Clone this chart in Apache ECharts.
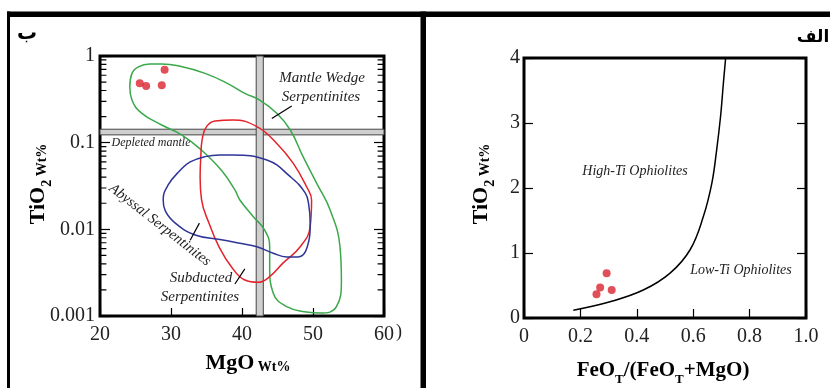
<!DOCTYPE html>
<html><head><meta charset="utf-8">
<script src="https://cdn.jsdelivr.net/npm/echarts@6/dist/echarts.min.js"></script>
<style>html,body{margin:0;padding:0;background:#fff}#c{width:830px;height:388px}</style>
</head><body><div id="c"></div>
<script>
// ---- Left panel (MgO vs TiO2, log) ----
const samplesMgO = [25.6, 26.5, 28.7, 29.1];
const samplesTiO2Left = [0.484, 0.451, 0.459, 0.695];
const mantleWedgeField = [[27.0,0.81],[28.7,0.81],[31.0,0.77],[34.8,0.63],[38.0,0.48],[40.4,0.37],[42.5,0.31],[44.9,0.218],[46.8,0.14],[48.6,0.069],[50.6,0.033],[52.4,0.0168],[53.8,0.0063],[54.0,0.0026],[53.3,0.00128],[51.0,0.00108],[49.1,0.00111],[46.3,0.00128],[44.4,0.00183],[43.9,0.0037],[43.9,0.0063],[43.2,0.0098],[41.6,0.014],[39.7,0.0218],[39.0,0.0285],[37.1,0.048],[34.3,0.082],[31.5,0.123],[28.7,0.16],[25.9,0.218],[24.5,0.31],[24.2,0.44],[24.5,0.63],[25.4,0.75]];
const subductedField = [[36.2,0.178],[38.7,0.183],[42.1,0.153],[44.9,0.098],[47.2,0.058],[49.1,0.031],[49.8,0.0218],[49.6,0.0107],[48.2,0.0063],[45.8,0.0041],[43.9,0.00285],[42.3,0.00245],[40.4,0.0026],[38.5,0.0037],[36.8,0.0062],[35.4,0.0115],[34.3,0.022],[34.1,0.04],[34.2,0.07],[34.4,0.11],[35.0,0.153]];
const abyssalField = [[36.9,0.072],[38.7,0.072],[43.5,0.063],[46.8,0.0405],[48.9,0.0263],[49.4,0.0191],[49.6,0.0118],[49.2,0.0063],[47.9,0.0048],[46.3,0.0048],[44.4,0.0053],[42.1,0.0063],[39.7,0.0069],[37.1,0.0076],[33.4,0.0086],[30.6,0.0118],[29.2,0.0163],[28.9,0.0218],[29.6,0.0325],[31.3,0.048],[32.7,0.06],[34.8,0.069]];
const depletedMantleBand = [0.123, 0.143];
const mgoBand = [42.0, 43.0];
const mantleWedgeLeader = [[44.2,0.19],[47.0,0.265]];
const abyssalLeader = [[32.7,0.0075],[34.0,0.0118]];
const subductedLeader = [[39.0,0.00234],[40.4,0.0035]];
const logMinorTicks = [0.9,0.8,0.7,0.6,0.5,0.4,0.3,0.2,0.09,0.08,0.07,0.06,0.05,0.04,0.03,0.02,0.009,0.008,0.007,0.006,0.005,0.004,0.003,0.002];
// ---- Right panel (FeOT/(FeOT+MgO) vs TiO2) ----
const samplesFeRatio = [0.257, 0.270, 0.293, 0.311];
const samplesTiO2Right = [0.365, 0.47, 0.69, 0.43];
const ophioliteDivide = [[0.175,0.12],[0.305,0.25],[0.423,0.43],[0.518,0.69],[0.589,1.05],[0.636,1.56],[0.666,2.07],[0.683,2.58],[0.697,3.10],[0.707,3.61],[0.715,4.0]];

const closeLoop = a => a.concat([a[0], a[1]]);
const zip = (a,b) => a.map((v,i)=>[v,b[i]]);
const SERIF = '"Liberation Serif","DejaVu Serif",serif';
const tickLbl = {fontFamily:SERIF, fontSize:20, color:'#222'};
const chart = echarts.init(document.getElementById('c'), null, {renderer:'canvas'});
const fieldLine = (data, color) => ({type:'line', xAxisIndex:0, yAxisIndex:0, data:closeLoop(data), smooth:0.45, symbol:'none', lineStyle:{color, width:1.5}, z:3});
const leader = data => ({type:'line', xAxisIndex:0, yAxisIndex:0, data, symbol:'none', lineStyle:{color:'#000', width:1.2}, z:4});
// minor log ticks drawn as short segments at both frame edges
const TL = 0.9;
const minorTickSegs = [];
logMinorTicks.forEach(v => { minorTickSegs.push([20, v], [20 + TL, v], '-', [60 - TL, v], [60, v], '-'); });

chart.setOption({
  animation:false,
  backgroundColor:'#fff',
  grid:[
    {left:100, top:56, width:284, height:260, show:true, borderWidth:3, borderColor:'#000', backgroundColor:'transparent'},
    {left:524, top:58, width:282, height:260, show:true, borderWidth:3, borderColor:'#000', backgroundColor:'transparent'}
  ],
  xAxis:[
    {gridIndex:0, type:'value', min:20, max:60, interval:10, axisLine:{show:false}, splitLine:{show:false},
     axisTick:{show:true, inside:true, length:8, lineStyle:{color:'#000', width:1.2}},
     axisLabel:Object.assign({margin:9}, tickLbl)},
    {gridIndex:1, type:'value', min:0, max:1, interval:0.2, axisLine:{show:false}, splitLine:{show:false},
     axisTick:{show:true, inside:true, length:9, lineStyle:{color:'#000', width:1.2}},
     axisLabel:Object.assign({margin:9, formatter:v => v===0 ? '0' : v.toFixed(1)}, tickLbl)}
  ],
  yAxis:[
    {gridIndex:0, type:'log', logBase:10, min:0.001, max:1, splitNumber:3, axisLine:{show:false}, splitLine:{show:false},
     axisTick:{show:true, inside:true, length:10, lineStyle:{color:'#000', width:1.2}},
     axisLabel:Object.assign({margin:5, formatter:v => String(Number(v.toPrecision(1)))}, tickLbl)},
    {gridIndex:0, type:'log', logBase:10, min:0.001, max:1, splitNumber:3, position:'right', axisLine:{show:false}, splitLine:{show:false},
     axisTick:{show:true, inside:true, length:10, lineStyle:{color:'#000', width:1.2}}, axisLabel:{show:false}},
    {gridIndex:1, type:'value', min:0, max:4, interval:1, axisLine:{show:false}, splitLine:{show:false},
     axisTick:{show:true, inside:true, length:9, lineStyle:{color:'#000', width:1.2}},
     axisLabel:Object.assign({margin:4}, tickLbl)},
    {gridIndex:1, type:'value', min:0, max:4, interval:1, position:'right', axisLine:{show:false}, splitLine:{show:false},
     axisTick:{show:true, inside:true, length:9, lineStyle:{color:'#000', width:1.2}}, axisLabel:{show:false}}
  ],
  series:[
    {type:'line', xAxisIndex:0, yAxisIndex:0, data:[], z:1,
     markArea:{silent:true, itemStyle:{color:'#cfcfcf', borderColor:'#444', borderWidth:1},
       data:[
         [{xAxis:20, yAxis:depletedMantleBand[0]},{xAxis:60, yAxis:depletedMantleBand[1]}],
         [{xAxis:mgoBand[0], yAxis:0.001},{xAxis:mgoBand[1], yAxis:1}]
       ]}},
    {type:'line', xAxisIndex:0, yAxisIndex:0, data:minorTickSegs, symbol:'none', silent:true,
     lineStyle:{color:'#000', width:1.2}, z:8},
    fieldLine(mantleWedgeField, '#3aa84b'),
    fieldLine(subductedField, '#e3222a'),
    fieldLine(abyssalField, '#2e3596'),
    leader(mantleWedgeLeader),
    leader(abyssalLeader),
    leader(subductedLeader),
    {type:'scatter', xAxisIndex:0, yAxisIndex:0, data:zip(samplesMgO, samplesTiO2Left), symbolSize:8, itemStyle:{color:'#d9232f'}, z:6},
    {type:'line', xAxisIndex:1, yAxisIndex:2, data:ophioliteDivide, smooth:0.4, symbol:'none', lineStyle:{color:'#000', width:1.5}, z:3},
    {type:'scatter', xAxisIndex:1, yAxisIndex:2, data:zip(samplesFeRatio, samplesTiO2Right), symbolSize:8, itemStyle:{color:'#d9232f'}, z:6}
  ],
  graphic:[
    {type:'rect', shape:{x:7, y:11.5, width:823, height:5.5}, style:{fill:'#000'}, z:10},
    {type:'rect', shape:{x:7, y:11.5, width:3, height:377}, style:{fill:'#000'}, z:10},
    {type:'rect', shape:{x:420.5, y:11.5, width:5.5, height:377}, style:{fill:'#000'}, z:10},
    {type:'text', x:27, y:34, style:{text:'ب', font:'bold 20px "DejaVu Sans"', fill:'#000', align:'center', verticalAlign:'middle'}},
    {type:'text', x:813, y:38, style:{text:'الف', font:'bold 17px "DejaVu Sans"', fill:'#000', align:'center', verticalAlign:'middle'}},
    // axis titles
    {type:'text', x:38, y:184, rotation:Math.PI/2, style:{text:'{a|TiO}{s|2}{b| Wt%}', align:'center', verticalAlign:'middle',
      rich:{a:{fontFamily:SERIF, fontWeight:'bold', fontSize:22, fill:'#000', verticalAlign:'bottom'}, s:{fontFamily:SERIF, fontWeight:'bold', fontSize:14, fill:'#000', verticalAlign:'bottom', padding:[0,0,-5,0]}, b:{fontFamily:SERIF, fontWeight:'bold', fontSize:14, fill:'#000', verticalAlign:'bottom'}}}},
    {type:'text', x:481, y:184, rotation:Math.PI/2, style:{text:'{a|TiO}{s|2}{b| Wt%}', align:'center', verticalAlign:'middle',
      rich:{a:{fontFamily:SERIF, fontWeight:'bold', fontSize:22, fill:'#000', verticalAlign:'bottom'}, s:{fontFamily:SERIF, fontWeight:'bold', fontSize:14, fill:'#000', verticalAlign:'bottom', padding:[0,0,-5,0]}, b:{fontFamily:SERIF, fontWeight:'bold', fontSize:14, fill:'#000', verticalAlign:'bottom'}}}},
    {type:'text', x:248, y:363, style:{text:'{a|MgO}{b| Wt%}', align:'center', verticalAlign:'middle',
      rich:{a:{fontFamily:SERIF, fontWeight:'bold', fontSize:22, fill:'#000', verticalAlign:'bottom'}, b:{fontFamily:SERIF, fontWeight:'bold', fontSize:14, fill:'#000', verticalAlign:'bottom'}}}},
    {type:'text', x:663, y:371, style:{text:'{a|FeO}{s|T}{a|/(FeO}{s|T}{a|+MgO)}', align:'center', verticalAlign:'middle',
      rich:{a:{fontFamily:SERIF, fontWeight:'bold', fontSize:21, fill:'#000', verticalAlign:'bottom'}, s:{fontFamily:SERIF, fontWeight:'bold', fontSize:13, fill:'#000', verticalAlign:'bottom', padding:[0,0,-5,0]}}}},
    {type:'text', x:399, y:332, style:{text:')', font:'18px "Liberation Serif"', fill:'#222', align:'center', verticalAlign:'middle'}},
    // annotations
    {type:'text', x:322, y:78, style:{text:'Mantle Wedge', font:'italic 15px "Liberation Serif"', fill:'#222', align:'center', verticalAlign:'middle'}},
    {type:'text', x:321, y:97, style:{text:'Serpentinites', font:'italic 15px "Liberation Serif"', fill:'#222', align:'center', verticalAlign:'middle'}},
    {type:'text', x:151, y:143, style:{text:'Depleted mantle', font:'italic 12px "Liberation Serif"', fill:'#222', align:'center', verticalAlign:'middle'}},
    {type:'text', x:160, y:225, rotation:-38*Math.PI/180, style:{text:'Abyssal Serpentinites', font:'italic 14.5px "Liberation Serif"', fill:'#222', align:'center', verticalAlign:'middle'}},
    {type:'text', x:201, y:278, style:{text:'Subducted', font:'italic 15px "Liberation Serif"', fill:'#222', align:'center', verticalAlign:'middle'}},
    {type:'text', x:200, y:297, style:{text:'Serpentinites', font:'italic 15px "Liberation Serif"', fill:'#222', align:'center', verticalAlign:'middle'}},
    {type:'text', x:635, y:171, style:{text:'High-Ti Ophiolites', font:'italic 14px "Liberation Serif"', fill:'#222', align:'center', verticalAlign:'middle'}},
    {type:'text', x:741, y:270, style:{text:'Low-Ti Ophiolites', font:'italic 14px "Liberation Serif"', fill:'#222', align:'center', verticalAlign:'middle'}}
  ]
});
</script></body></html>
